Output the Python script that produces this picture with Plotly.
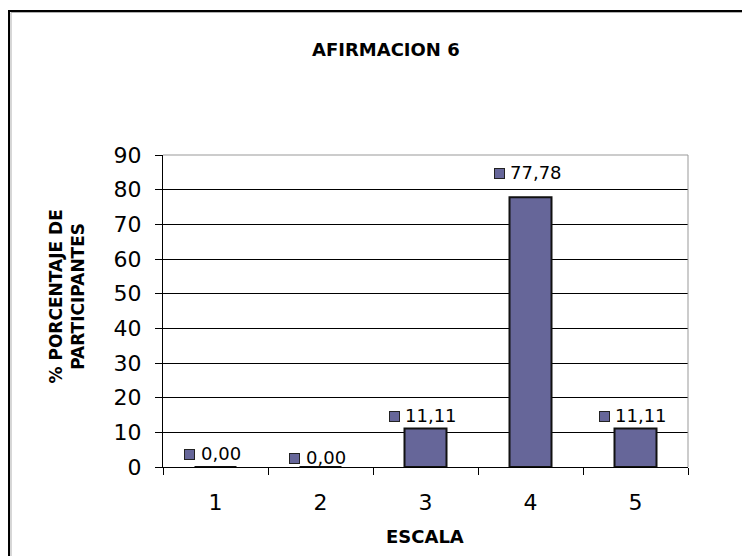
import plotly.graph_objects as go

# ---- data ----
categories = ["1", "2", "3", "4", "5"]
percentages = [0.00, 0.00, 11.11, 77.78, 11.11]
value_labels = ["0,00", "0,00", "11,11", "77,78", "11,11"]
y_ticks = [0, 10, 20, 30, 40, 50, 60, 70, 80, 90]

title_text = "AFIRMACION 6"
x_title = "ESCALA"
y_title = "% PORCENTAJE DE<br>PARTICIPANTES"

# ---- styling ----
BAR_COLOR = "#666699"
FONT = "DejaVu Sans"
LABEL_SIZE = 18
label_lift_px = [14, 10, 13, 25, 13]   # how far each data label sits above its bar

fig = go.Figure()
fig.add_trace(go.Bar(
    x=categories, y=percentages,
    marker=dict(color=BAR_COLOR, line=dict(color="#111111", width=2)),
    showlegend=False, hoverinfo="x+y",
))

def text_width(s, size):
    w = 0.0
    for ch in s:
        w += 0.318 if ch in ",." else 0.636
    return w * size

annotations = []
for i, (val, lab) in enumerate(zip(percentages, value_labels)):
    w = text_width(lab, LABEL_SIZE)
    group = 11 + 5 + w
    left = -3 - group / 2
    annotations.append(dict(
        x=i, y=val, xref="x", yref="y", text=lab, showarrow=False,
        xanchor="center", yanchor="middle",
        xshift=left + 16 + w / 2, yshift=label_lift_px[i],
        font=dict(family=FONT, size=LABEL_SIZE, color="black"),
    ))
    annotations.append(dict(
        x=i, y=val, xref="x", yref="y", text=" ", showarrow=False,
        xanchor="center", yanchor="middle",
        xshift=left + 5.5, yshift=label_lift_px[i] - 1,
        width=9, height=9, borderpad=0, borderwidth=1,
        bordercolor="#222222", bgcolor=BAR_COLOR,
        font=dict(size=1),
    ))

# titles
annotations.append(dict(
    x=0.4248, y=1.3397, xref="paper", yref="paper", text=title_text,
    showarrow=False, xanchor="center", yanchor="middle",
    font=dict(family=FONT, size=18, color="black", weight="bold"),
))
annotations.append(dict(
    x=0.499, y=-0.2228, xref="paper", yref="paper", text=x_title,
    showarrow=False, xanchor="center", yanchor="middle",
    font=dict(family=FONT, size=18, color="black", weight="bold"),
))
annotations.append(dict(
    x=-0.1838, y=0.5449, xref="paper", yref="paper", text=y_title,
    showarrow=False, xanchor="center", yanchor="middle", textangle=-90,
    font=dict(family=FONT, size=17, color="black", weight="bold"),
))

shapes = [
    # outer chart frame (extends past the window)
    dict(type="rect", xref="paper", yref="paper",
         x0=-0.2933, y0=-0.4, x1=1.2, y1=1.4615,
         line=dict(color="black", width=2), layer="below"),
    dict(type="rect", xref="paper", yref="paper",
         x0=-0.2895, y0=-0.4, x1=1.2, y1=1.4567,
         line=dict(color="#b0b0b0", width=1), layer="below"),
    # plot-area border (top & right) in grey
    dict(type="line", xref="paper", yref="paper", x0=0, x1=1, y0=1, y1=1,
         line=dict(color="#999999", width=1), layer="above"),
    dict(type="line", xref="paper", yref="paper", x0=1, x1=1, y0=0, y1=1,
         line=dict(color="#999999", width=1), layer="above"),
]

fig.update_layout(
    width=750, height=556,
    margin=dict(l=155, r=70, t=147, b=97),
    paper_bgcolor="white", plot_bgcolor="white",
    bargap=0.6,
    font=dict(family=FONT, color="black"),
    annotations=annotations, shapes=shapes,
    xaxis=dict(
        type="category", showline=True, linecolor="black", linewidth=1,
        ticks="outside", ticklen=7, tickcolor="black", tickwidth=1,
        tickson="boundaries", showgrid=False,
        tickfont=dict(family=FONT, size=22, color="black"),
        ticklabelstandoff=16,
    ),
    yaxis=dict(
        range=[0, 90], tickvals=y_ticks, ticktext=[str(v) for v in y_ticks],
        showline=True, linecolor="black", linewidth=1,
        ticks="outside", ticklen=7, tickcolor="black", tickwidth=1,
        showgrid=True, gridcolor="black", gridwidth=1, zeroline=False,
        tickfont=dict(family=FONT, size=22, color="black"),
        ticklabelstandoff=9,
    ),
)

fig.write_html("out.html")
